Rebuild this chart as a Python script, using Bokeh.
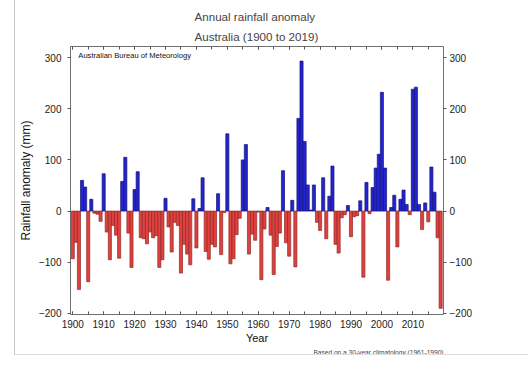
from bokeh.plotting import figure
from bokeh.models import (ColumnDataSource, LinearAxis, Title, Label, SingleIntervalTicker, Range1d,
                          CustomJSTickFormatter)
from bokeh.embed import file_html
from bokeh.resources import INLINE

years = list(range(1900, 2020))
anomaly = [
    -93, -61, -153, 60, 47, -138, 23, -4, -6, -20,          # 1900s
    73, -41, -95, -28, -47, -92, 58, 105, -43, -110,         # 1910s
    42, 77, -52, -54, -64, -41, -52, -48, -110, -95,         # 1920s
    25, -31, -80, -22, -28, -121, -65, -84, -105, 24,        # 1930s
    -72, 5, 65, -79, -94, -65, -70, 34, -85, -3,             # 1940s
    151, -103, -93, -46, -14, 100, 130, -84, -45, -57,       # 1950s
    -2, -134, -35, 7, -47, -124, -69, -43, 79, -62,          # 1960s
    -88, 21, -109, 181, 293, 136, 51, 2, 51, -22,            # 1970s
    -38, 65, -54, 29, 88, -65, -82, -13, -7, 11,             # 1980s
    -50, -11, -9, 20, -129, 56, -5, 46, 84, 111,             # 1990s
    232, 84, -135, 7, 31, -70, 23, 41, 13, -7,               # 2000s
    238, 242, 13, -36, 16, -21, 86, 37, -52, -190,           # 2010s
]
assert len(anomaly) == len(years)

title_line1 = "Annual rainfall anomaly"
title_line2 = "Australia (1900 to 2019)"
credit = "Australian Bureau of Meteorology"
caption = "Based on a 30-year climatology (1961-1990)"
x_label = "Year"
y_label = "Rainfall anomaly (mm)"

FONT = "Liberation Sans"
fill = ["#2424d4" if v >= 0 else "#e2403c" for v in anomaly]
edge = ["#14146e" if v >= 0 else "#8e2a2a" for v in anomaly]
src = ColumnDataSource(dict(year=years, anomaly=anomaly, fill=fill, edge=edge))

p = figure(width=514, height=355, x_range=Range1d(1899.27, 2019.92), y_range=Range1d(-202, 321.5),
           output_backend="svg", toolbar_location=None, title=title_line1,
           min_border_left=48, min_border_right=86, min_border_top=46, min_border_bottom=41,
           x_axis_location=None, y_axis_location=None,
           styles={"margin-left": "14px", "border-left": "1px solid #c8c8c8",
                   "border-bottom": "1px solid #dddddd"})
p.grid.visible = False
p.outline_line_color = "#707070"
p.outline_line_width = 1
p.background_fill_color = "white"
p.border_fill_color = "white"

p.vbar(x="year", top="anomaly", bottom=0, width=1.0, fill_color="fill", line_color="edge",
       line_width=0.7, source=src)


def style_axis(ax):
    ax.axis_line_color = None
    ax.major_label_text_font = FONT
    ax.major_label_text_font_size = "10px"
    ax.major_label_text_color = "#222222"
    ax.major_tick_line_color = "#555555"
    ax.minor_tick_line_color = "#555555"
    ax.axis_label_text_font = FONT
    ax.axis_label_text_font_style = "normal"
    ax.axis_label_text_color = "#111111"


# top tick-only axis first, so it sits against the frame
xa = LinearAxis(ticker=SingleIntervalTicker(interval=10, num_minor_ticks=2),
                formatter=CustomJSTickFormatter(code="return ''"))
style_axis(xa)
xa.major_tick_in = 3
xa.major_tick_out = 0
xa.minor_tick_in = 3
xa.minor_tick_out = 0
xa.major_label_standoff = 0
p.add_layout(xa, "above")

p.title.text_font = FONT
p.title.text_font_size = "11.6px"
p.title.text_font_style = "normal"
p.title.align = "left"
p.title.offset = 124
p.title.standoff = 1
t2 = Title(text=title_line2, align="left", offset=124, text_font=FONT, text_font_size="11.6px",
           text_font_style="normal", standoff=8)
p.add_layout(t2, "above")

xt = SingleIntervalTicker(interval=10, num_minor_ticks=2)
xb = LinearAxis(ticker=xt, axis_label=x_label)
style_axis(xb)
xb.major_tick_in = 3
xb.major_tick_out = 0
xb.minor_tick_in = 3
xb.minor_tick_out = 0
xb.major_label_standoff = 5
xb.axis_label_standoff = 1
xb.axis_label_text_font_size = "11px"
p.add_layout(xb, "below")

yt = SingleIntervalTicker(interval=100, num_minor_ticks=0)
yl = LinearAxis(ticker=yt, axis_label=y_label)
style_axis(yl)
yl.major_tick_in = 0
yl.major_tick_out = 3
yl.minor_tick_in = 0
yl.minor_tick_out = 0
yl.major_label_standoff = 6
yl.axis_label_standoff = 3
yl.axis_label_text_font_size = "12px"
p.add_layout(yl, "left")

yr = LinearAxis(ticker=SingleIntervalTicker(interval=100, num_minor_ticks=0))
style_axis(yr)
yr.major_tick_in = 0
yr.major_tick_out = 3
yr.minor_tick_in = 0
yr.minor_tick_out = 0
yr.major_label_standoff = 3
p.add_layout(yr, "right")

p.add_layout(Label(x=1901.8, y=304, text=credit, text_font=FONT, text_font_size="7.6px",
                   text_baseline="middle", text_color="#111111"))

cap = Title(text=caption, align="right", text_font=FONT, text_font_size="6.6px",
            text_font_style="normal", text_color="#444444", standoff=0)
p.add_layout(cap, "below")

open("out.html", "w").write(file_html(p, INLINE))
